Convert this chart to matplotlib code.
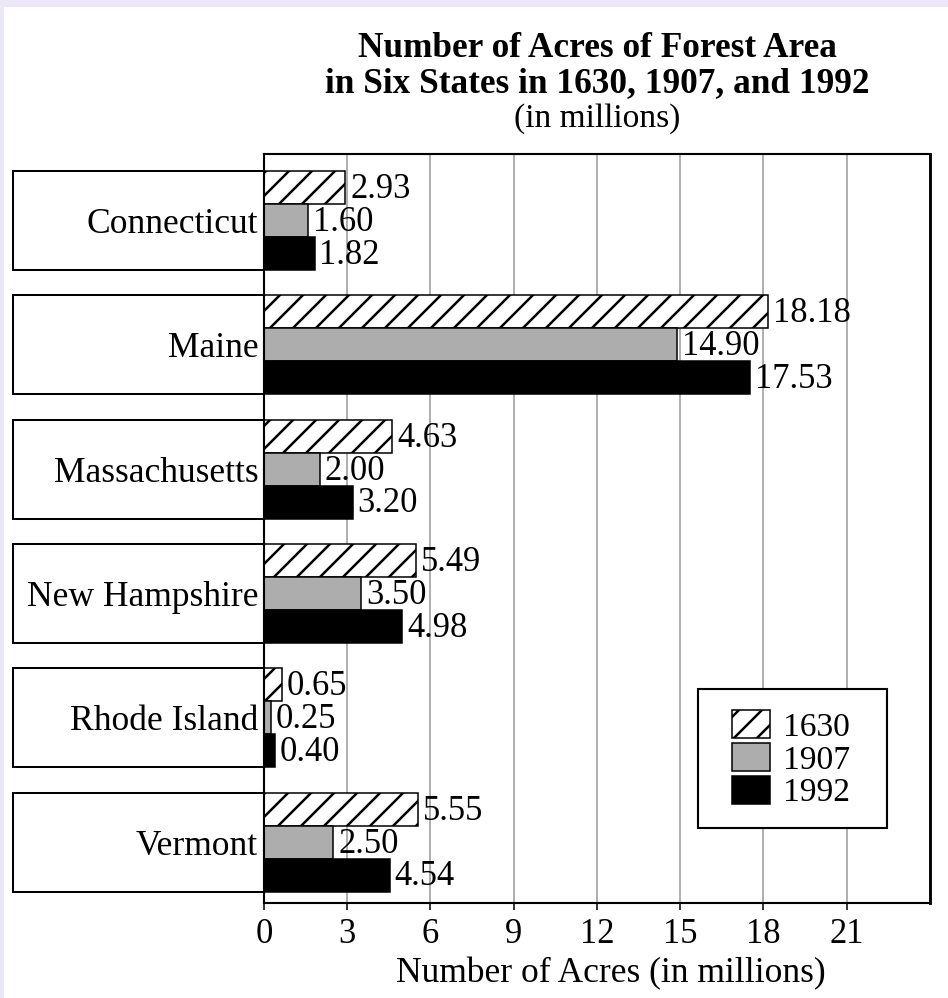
import matplotlib
matplotlib.use("Agg")
import matplotlib.pyplot as plt
from matplotlib.patches import Rectangle
from matplotlib.transforms import blended_transform_factory

plt.rcParams["font.family"] = ["Liberation Serif", "DejaVu Serif"]
plt.rcParams["hatch.linewidth"] = 1.3

states = ["Connecticut", "Maine", "Massachusetts", "New Hampshire", "Rhode Island", "Vermont"]
years = ["1630", "1907", "1992"]
acres_1630 = [2.93, 18.18, 4.63, 5.49, 0.65, 5.55]
acres_1907 = [1.60, 14.90, 2.00, 3.50, 0.25, 2.50]
acres_1992 = [1.82, 17.53, 3.20, 4.98, 0.40, 4.54]
x_ticks = [0, 3, 6, 9, 12, 15, 18, 21]

# dpi chosen so the "//" hatch spacing matches the scan
DPI = 138
fig = plt.figure(figsize=(948 / DPI, 998 / DPI), dpi=DPI, facecolor="#ebe7f8")
fig.add_artist(Rectangle((4 / 948, 0), 1, 1 - 7 / 998, transform=fig.transFigure,
                         facecolor="white", edgecolor="none", zorder=-1))

ax = fig.add_axes([264 / 948, 1 - 903 / 998, 666 / 948, 749 / 998])

bh = 0.265
ypos = list(range(len(states)))
series = [
    (acres_1630, dict(color="white", hatch="//"), -bh),
    (acres_1907, dict(color="#adadad"), 0.0),
    (acres_1992, dict(color="black"), bh),
]
for (vals, style, off), yr in zip(series, years):
    bars = ax.barh([y + off for y in ypos], vals, height=bh, edgecolor="black",
                   linewidth=0.8, label=yr, zorder=3, **style)
    for b, v in zip(bars, vals):
        ax.annotate(f"{v:.2f}", (b.get_width(), b.get_y() + bh / 2),
                    xytext=(2.5, -1), textcoords="offset points",
                    va="center", ha="left", fontsize=18, zorder=4)

# boxes around the state names, left of the axis (below the tick labels)
trans = blended_transform_factory(ax.transAxes, ax.transData)
for y in ypos:
    ax.add_patch(Rectangle((-0.377, y - 1.5 * bh), 0.377, 3 * bh, transform=trans,
                           facecolor="white", edgecolor="black", linewidth=1.05,
                           clip_on=False, zorder=0.3))

ax.set_xlim(0, 24)
ax.set_ylim(5.49, -0.535)
ax.set_xticks(x_ticks)
ax.set_yticks(ypos)
ax.set_yticklabels(states)
ax.tick_params(axis="x", direction="out", length=3.6, width=0.8, labelsize=18, pad=4)
ax.tick_params(axis="y", length=0, pad=3, labelsize=18.5)
ax.grid(axis="x", color="#999999", linewidth=0.8)
ax.set_axisbelow(True)
for side in ["left", "right", "top", "bottom"]:
    ax.spines[side].set_linewidth(1.1)
    ax.spines[side].set_zorder(3.5)
ax.spines["right"].set_linewidth(1.5)

ax.set_xlabel("Number of Acres (in millions)", fontsize=18.5)
ax.xaxis.set_label_coords(0.52, -0.072)

# legend
ax.add_patch(Rectangle((0.652, 0.100), 0.2838, 0.1856, transform=ax.transAxes,
                       facecolor="white", edgecolor="black", linewidth=1.1, zorder=6))
leg = ax.legend(loc="upper left", bbox_to_anchor=(0.7027, 0.2577), frameon=False,
                borderpad=0, borderaxespad=0, handlelength=1.13, handleheight=0.93,
                labelspacing=0, handletextpad=0.39, fontsize=17.5)
leg.set_zorder(7)

cx = (264 + 930) / 2 / 948
fig.text(cx, 1 - 57 / 998, "Number of Acres of Forest Area", ha="center", va="baseline",
         fontsize=18.4, fontweight="bold")
fig.text(cx, 1 - 92 / 998, "in Six States in 1630, 1907, and 1992", ha="center",
         va="baseline", fontsize=18.4, fontweight="bold")
fig.text(cx, 1 - 127 / 998, "(in millions)", ha="center", va="baseline", fontsize=17.5)

fig.savefig("out.png", dpi=DPI, facecolor=fig.get_facecolor())
